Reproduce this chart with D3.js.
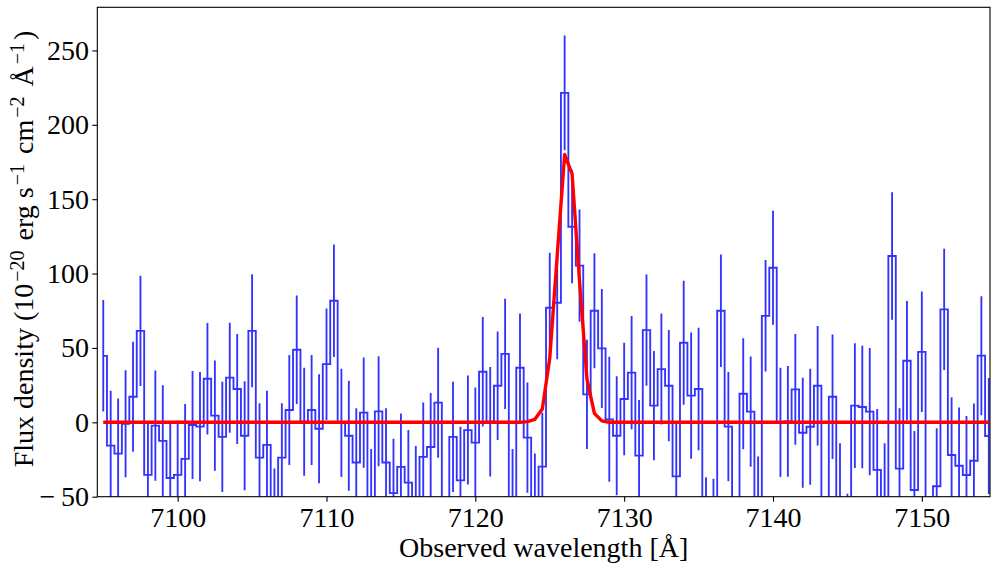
<!DOCTYPE html>
<html><head><meta charset="utf-8">
<script src="https://cdn.jsdelivr.net/npm/d3@7"></script>
<style>
body{margin:0;background:#fff}
svg{display:block}
text{font-family:"Liberation Serif","Times New Roman",serif;fill:#000}
</style>
</head><body>
<svg id="chart" width="996" height="569"></svg>
<script>
// Bin centres (observed wavelength, Å)
const wavelength = [
 7095,7095.5,7096,7096.5,7097,7097.5,7098,7098.5,7099,7099.5,
 7100,7100.5,7101,7101.5,7102,7102.5,7103,7103.5,7104,7104.5,
 7105,7105.5,7106,7106.5,7107,7107.5,7108,7108.5,7109,7109.5,
 7110,7110.5,7111,7111.5,7112,7112.5,7113,7113.5,7114,7114.5,
 7115,7115.5,7116,7116.5,7117,7117.5,7118,7118.5,7119,7119.5,
 7120,7120.5,7121,7121.5,7122,7122.5,7123,7123.5,7124,7124.5,
 7125,7125.5,7126,7126.5,7127,7127.5,7128,7128.5,7129,7129.5,
 7130,7130.5,7131,7131.5,7132,7132.5,7133,7133.5,7134,7134.5,
 7135,7135.5,7136,7136.5,7137,7137.5,7138,7138.5,7139,7139.5,
 7140,7140.5,7141,7141.5,7142,7142.5,7143,7143.5,7144,7144.5,
 7145,7145.5,7146,7146.5,7147,7147.5,7148,7148.5,7149,7149.5,
 7150,7150.5,7151,7151.5,7152,7152.5,7153,7153.5,7154,7154.5
];
// Observed flux density (1e-20 erg/s/cm2/Å)
const flux = [
 44.7,-15.7,-21,-1,17.2,61.5,-35.3,-2.2,-12.5,-37.4,
 -35.3,-24.6,-1.8,-2.9,29.3,4.5,-9.8,30,22.4,-9,
 61.5,-23.7,-15.2,-68,-23.7,8.3,48.8,0.4,8.3,-4.3,
 39.1,81.7,-0.4,-9,-27,6.5,-55,7.4,-27,-47.6,
 -30,-40.5,-53,-23.2,-16.6,13.2,-95,-9.8,-39,-5.2,
 -13.6,34,0.4,24.6,46,-55,36.7,-10.3,-58,-29.8,
 77,80.4,221.5,131.5,105.3,18.8,75,49.7,2,-9,
 15.7,33.4,-22.4,62,11.2,35.8,24.6,-36.3,53.5,17.9,
 22.4,-74,-75,75,-2.9,-95,19.2,7.2,-60,71.6,
 103.9,0,0.6,22.2,-7,-3,24.6,-95,17.2,-55,
 -88,11.2,10.3,7.2,-32,-54,111.8,-31.1,41.4,-45.5,
 47.4,-95,-43,75.9,-22,-29.2,-35.4,-25.8,44.8,-9.2
];
// 1-sigma uncertainties
const fluxErr = [
 37.5,37,37,36,37,37,35.5,37,37.5,36.5,
 36.6,37,36.3,36.7,37.5,37,37,37,37,36.6,
 38,36.5,36.5,37,36.5,37,36.5,36.3,37,36.6,
 37.5,37.8,36.4,37,36.5,37,37,37,36.5,36.6,
 36,35.4,37,36.5,36.3,37,37,37,36,36.6,
 37,36.8,36.8,36.5,37,37,36.5,37,37,36.3,
 37,38,38.6,38,37.7,36.7,38.6,40,42,40,
 37.8,38,37.4,37.4,36.7,37.3,37.4,36.7,41.7,42.4,
 41.1,37,37,37.8,36.7,37,37.3,37,37,37.5,
 38.3,36.7,37.2,37.2,37,39,40.2,40,41.8,41,
 40,41.9,41.2,42.8,41,40,42.8,40.6,40.2,39.7,
 40.5,40,39,40.8,38.8,39.2,39.6,38.5,40,39
];
// Line-fit model evaluated at the bin centres
const model = [
 0,0,0,0,0,0,0,0,0,0,
 0,0,0,0,0,0,0,0,0,0,
 0,0,0,0,0,0,0,0,0,0,
 0,0,0,0,0,0,0,0,0,0,
 0,0,0,0,0,0,0,0,0,0,
 0,0,0,0,0,0,0,0.5,2,9,
 43,112,180,167,95,29,6,1,0,0,
 0,0,0,0,0,0,0,0,0,0,
 0,0,0,0,0,0,0,0,0,0,
 0,0,0,0,0,0,0,0,0,0,
 0,0,0,0,0,0,0,0,0,0,
 0,0,0,0,0,0,0,0,0,0
];
const xTicks = [7100,7110,7120,7130,7140,7150];
const yTicks = [-50,0,50,100,150,200,250];
const xLabel = "Observed wavelength [Å]";

const plot = {left:97.3, right:990, top:7.3, bottom:496.7};
const svg = d3.select("#chart");

const x = d3.scaleLinear().domain([7094.6, 7154.58]).range([plot.left, plot.right]);
const y = d3.scaleLinear().domain([-50, 279]).range([plot.bottom, plot.top]);

const data = wavelength.map((w,i)=>({w, f:flux[i], e:fluxErr[i], m:model[i]}));

svg.append("defs").append("clipPath").attr("id","clip")
  .append("rect").attr("x",plot.left).attr("y",plot.top)
  .attr("width",plot.right-plot.left).attr("height",plot.bottom-plot.top);

const g = svg.append("g").attr("clip-path","url(#clip)");
const blue = "#3333ff";

// step spectrum
g.append("path").datum(data)
  .attr("fill","none").attr("stroke",blue).attr("stroke-width",1.85)
  .attr("d", d3.line().x(d=>x(d.w)).y(d=>y(d.f)).curve(d3.curveStep));

// error bars
g.selectAll("line.err").data(data).join("line").attr("class","err")
  .attr("x1",d=>x(d.w)).attr("x2",d=>x(d.w))
  .attr("y1",d=>y(d.f-d.e)).attr("y2",d=>y(d.f+d.e))
  .attr("stroke",blue).attr("stroke-width",1.85);

// model
g.append("path").datum(data)
  .attr("fill","none").attr("stroke","#ff0000").attr("stroke-width",3.4)
  .attr("stroke-linejoin","round")
  .attr("d", d3.line().x(d=>x(d.w)).y(d=>y(d.m)));

// axes
const xAxis = svg.append("g").attr("transform",`translate(0,${plot.bottom})`)
  .call(d3.axisBottom(x).tickValues(xTicks).tickSize(5).tickPadding(5.4).tickFormat(d3.format("d")));
const yAxis = svg.append("g").attr("transform",`translate(${plot.left},0)`)
  .call(d3.axisLeft(y).tickValues(yTicks).tickSize(5).tickPadding(3.3).tickFormat(d => d<0 ? "\u2212\u2009"+Math.abs(d) : String(d)));
[xAxis,yAxis].forEach(a=>{
  a.select(".domain").remove();
  a.selectAll(".tick line").attr("stroke","#000").attr("stroke-width",1.1);
  a.selectAll(".tick text").attr("font-family","Liberation Serif").attr("font-size",28).attr("fill","#000");
});

// frame
svg.append("rect").attr("x",plot.left).attr("y",plot.top)
  .attr("width",plot.right-plot.left).attr("height",plot.bottom-plot.top)
  .attr("fill","none").attr("stroke","#000").attr("stroke-width",1.1);

// x label
svg.append("text").attr("x",(plot.left+plot.right)/2).attr("y",557)
  .attr("text-anchor","middle").attr("font-size",28).text(xLabel);

// y label with superscripts
const yl = svg.append("text")
  .attr("transform",`translate(33,${(plot.top+plot.bottom)/2}) rotate(-90)`)
  .attr("text-anchor","middle").attr("font-size",28);
const parts = [
  ["Flux density (10",false],["\u221220",true],[" erg s",false],["\u22121",true],
  [" cm",false],["\u22122",true],[" Å",false],["\u22121",true],[")",false]
];
parts.forEach(([t,sup])=>{
  const ts = yl.append("tspan").text(t);
  if(sup) ts.attr("font-size",20).attr("baseline-shift","9px").attr("dx",2);
  else ts.attr("dx",3);
});
</script>
</body></html>
